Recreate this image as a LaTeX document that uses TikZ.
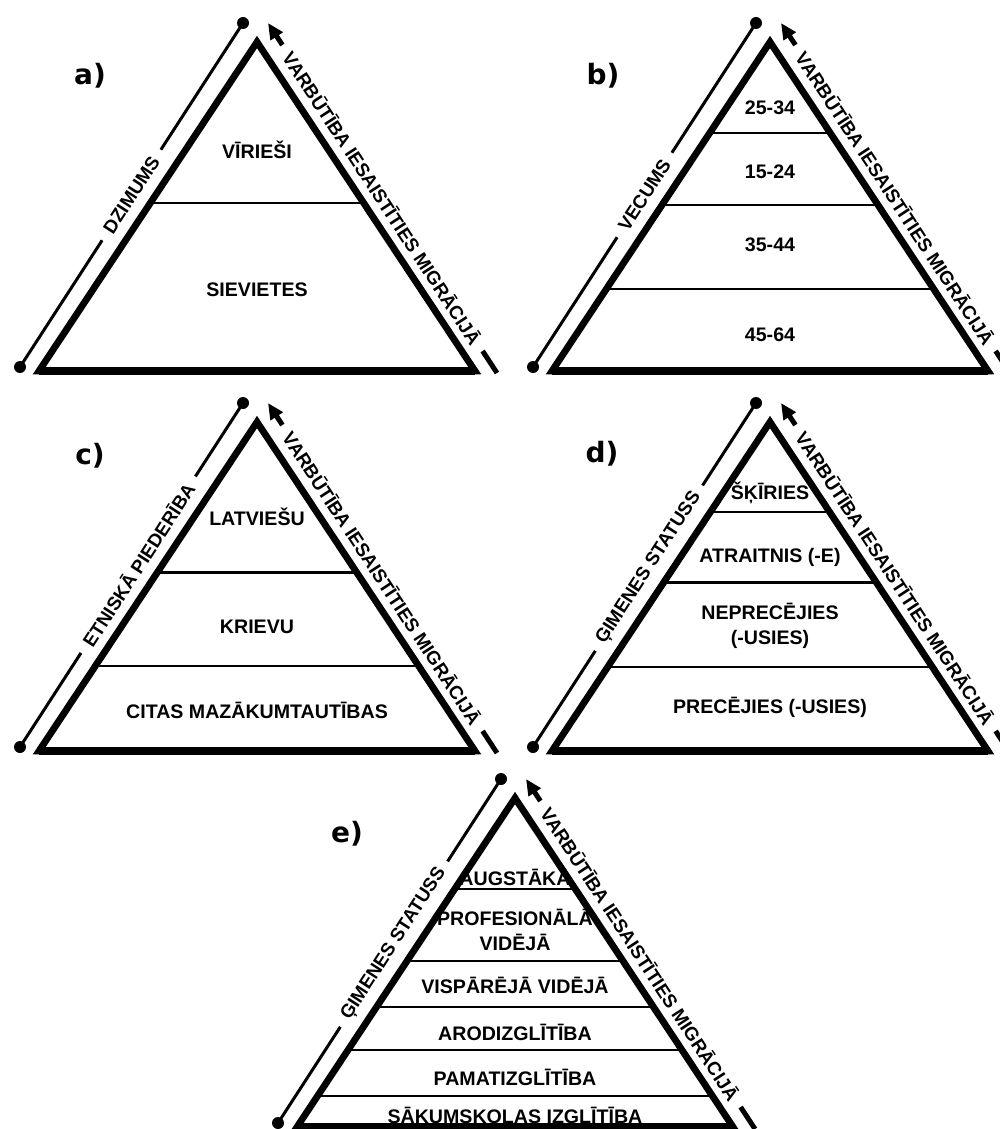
\documentclass[tikz,border=0pt]{standalone}
\usepackage{fontspec}
\setmainfont{Liberation Sans}
\newfontfamily\panelfont{DejaVu Sans}
\usetikzlibrary{calc,arrows.meta}

\begin{document}
\begin{tikzpicture}[x=0.5pt,y=-0.5pt,
   pyr/.style={line width=3.4pt,line join=miter},
   base/.style={line width=4.2pt},
   divider/.style={line width=1.3pt},
   sideline/.style={line width=1.5pt},
   probline/.style={line width=2.5pt,-{Triangle[length=8pt,width=7pt]}},
   sidelabel/.style={sloped,fill=white,inner xsep=5pt,inner ysep=0pt,font=\bfseries\fontsize{9.4}{11}\selectfont},
   tier/.style={font=\bfseries\fontsize{9.8}{12.5}\selectfont,align=center},
   panel/.style={font=\panelfont\bfseries\fontsize{14}{16}\selectfont}]
   \useasboundingbox (0,0) rectangle (1000,1129);
   \clip (0,0) rectangle (1000,1129);

   % a) dzimums
   \begin{scope}[shift={(257,42)}]
      \coordinate (Aa) at (0,0);
      \coordinate (La) at (-218,329);
      \coordinate (Ra) at (218,329);
      \coordinate (pa) at (-14,-19);
      \coordinate (qa) at (-237,325);
      \coordinate (ua) at (11,-19);
      \coordinate (wa) at (240,331);
      \draw[sideline] (qa) -- node[sidelabel] (sa) {DZIMUMS} (pa);
      \fill (pa) circle (3pt) (qa) circle (3pt);
      \draw[probline] (wa) -- node[sidelabel] (ma) {VARBŪTĪBA IESAISTĪTIES MIGRĀCIJĀ} (ua);
      \draw[pyr] (Aa) -- (La) -- (Ra) -- cycle;
      \draw[base] (La) -- (Ra);
      \draw[divider] ($(Aa)!0.489!(La)$) -- ($(Aa)!0.489!(Ra)$);
      \node[tier] (a1) at (0,108) {VĪRIEŠI};
      \node[tier] (a2) at (0,248) {SIEVIETES};
      \node[panel] (la) at (-167,34) {a)};
   \end{scope}

   % b) vecums
   \begin{scope}[shift={(770,42)}]
      \coordinate (Ab) at (0,0);
      \coordinate (Lb) at (-218,329);
      \coordinate (Rb) at (218,329);
      \coordinate (pb) at (-14,-19);
      \coordinate (qb) at (-237,325);
      \coordinate (ub) at (11,-19);
      \coordinate (wb) at (240,331);
      \draw[sideline] (qb) -- node[sidelabel] (sb) {VECUMS} (pb);
      \fill (pb) circle (3pt) (qb) circle (3pt);
      \draw[probline] (wb) -- node[sidelabel] (mb) {VARBŪTĪBA IESAISTĪTIES MIGRĀCIJĀ} (ub);
      \draw[pyr] (Ab) -- (Lb) -- (Rb) -- cycle;
      \draw[base] (Lb) -- (Rb);
      \draw[divider] ($(Ab)!0.277!(Lb)$) -- ($(Ab)!0.277!(Rb)$);
      \draw[divider] ($(Ab)!0.495!(Lb)$) -- ($(Ab)!0.495!(Rb)$);
      \draw[divider] ($(Ab)!0.751!(Lb)$) -- ($(Ab)!0.751!(Rb)$);
      \node[tier] (b1) at (0,66) {25-34};
      \node[tier] (b2) at (0,130) {15-24};
      \node[tier] (b3) at (0,203) {35-44};
      \node[tier] (b4) at (0,293) {45-64};
      \node[panel] (lb) at (-167,34) {b)};
   \end{scope}

   % c) etniska piederiba
   \begin{scope}[shift={(257,422)}]
      \coordinate (Ac) at (0,0);
      \coordinate (Lc) at (-218,329);
      \coordinate (Rc) at (218,329);
      \coordinate (pc) at (-14,-19);
      \coordinate (qc) at (-237,325);
      \coordinate (uc) at (11,-19);
      \coordinate (wc) at (240,331);
      \draw[sideline] (qc) -- node[sidelabel,pos=0.53] (sc) {ETNISKĀ PIEDERĪBA} (pc);
      \fill (pc) circle (3pt) (qc) circle (3pt);
      \draw[probline] (wc) -- node[sidelabel] (mc) {VARBŪTĪBA IESAISTĪTIES MIGRĀCIJĀ} (uc);
      \draw[pyr] (Ac) -- (Lc) -- (Rc) -- cycle;
      \draw[base] (Lc) -- (Rc);
      \draw[divider] ($(Ac)!0.458!(Lc)$) -- ($(Ac)!0.458!(Rc)$);
      \draw[divider] ($(Ac)!0.742!(Lc)$) -- ($(Ac)!0.742!(Rc)$);
      \node[tier] (c1) at (0,95) {LATVIEŠU};
      \node[tier] (c2) at (0,205) {KRIEVU};
      \node[tier] (c3) at (0,288) {CITAS MAZĀKUMTAUTĪBAS};
      \node[panel] (lc) at (-167,34) {c)};
   \end{scope}

   % d) gimenes statuss
   \begin{scope}[shift={(770,422)}]
      \coordinate (Ad) at (0,0);
      \coordinate (Ld) at (-218,329);
      \coordinate (Rd) at (218,329);
      \coordinate (pd) at (-14,-19);
      \coordinate (qd) at (-237,325);
      \coordinate (ud) at (11,-19);
      \coordinate (wd) at (240,331);
      \draw[sideline] (qd) -- node[sidelabel,pos=0.52] (sd) {ĢIMENES STATUSS} (pd);
      \fill (pd) circle (3pt) (qd) circle (3pt);
      \draw[probline] (wd) -- node[sidelabel] (md) {VARBŪTĪBA IESAISTĪTIES MIGRĀCIJĀ} (ud);
      \draw[pyr] (Ad) -- (Ld) -- (Rd) -- cycle;
      \draw[base] (Ld) -- (Rd);
      \draw[divider] ($(Ad)!0.273!(Ld)$) -- ($(Ad)!0.273!(Rd)$);
      \draw[divider] ($(Ad)!0.488!(Ld)$) -- ($(Ad)!0.488!(Rd)$);
      \draw[divider] ($(Ad)!0.745!(Ld)$) -- ($(Ad)!0.745!(Rd)$);
      \node[tier] (d1) at (0,71) {ŠĶĪRIES};
      \node[tier] (d2) at (0,135) {ATRAITNIS (-E)};
      \node[tier] (d3) at (0,204) {NEPRECĒJIES\\(-USIES)};
      \node[tier] (d4) at (0,285) {PRECĒJIES (-USIES)};
      \node[panel] (ld) at (-168,32) {d)};
   \end{scope}

   % e) izglitiba
   \begin{scope}[shift={(515,798)}]
      \coordinate (Ae) at (0,0);
      \coordinate (Le) at (-218,329);
      \coordinate (Re) at (218,329);
      \coordinate (pe) at (-14,-19);
      \coordinate (qe) at (-237,325);
      \coordinate (ue) at (11,-19);
      \coordinate (we) at (240,331);
      \draw[sideline] (qe) -- node[sidelabel,pos=0.52] (se) {ĢIMENES STATUSS} (pe);
      \fill (pe) circle (3pt) (qe) circle (3pt);
      \draw[probline] (we) -- node[sidelabel] (me) {VARBŪTĪBA IESAISTĪTIES MIGRĀCIJĀ} (ue);
      \draw[pyr] (Ae) -- (Le) -- (Re) -- cycle;
      \draw[base] (Le) -- (Re);
      \draw[divider] ($(Ae)!0.277!(Le)$) -- ($(Ae)!0.277!(Re)$);
      \draw[divider] ($(Ae)!0.495!(Le)$) -- ($(Ae)!0.495!(Re)$);
      \draw[divider] ($(Ae)!0.635!(Le)$) -- ($(Ae)!0.635!(Re)$);
      \draw[divider] ($(Ae)!0.766!(Le)$) -- ($(Ae)!0.766!(Re)$);
      \draw[divider] ($(Ae)!0.906!(Le)$) -- ($(Ae)!0.906!(Re)$);
      \node[tier] (e1) at (0,79) {AUGSTĀKĀ};
      \node[tier] (e2) at (0,132) {PROFESIONĀLĀ\\VIDĒJĀ};
      \node[tier] (e3) at (0,187) {VISPĀRĒJĀ VIDĒJĀ};
      \node[tier] (e4) at (0,234) {ARODIZGLĪTĪBA};
      \node[tier] (e5) at (0,279) {PAMATIZGLĪTĪBA};
      \node[tier] (e6) at (0,317) {SĀKUMSKOLAS IZGLĪTĪBA};
      \node[panel] (le) at (-168,36) {e)};
   \end{scope}
\end{tikzpicture}
\end{document}
